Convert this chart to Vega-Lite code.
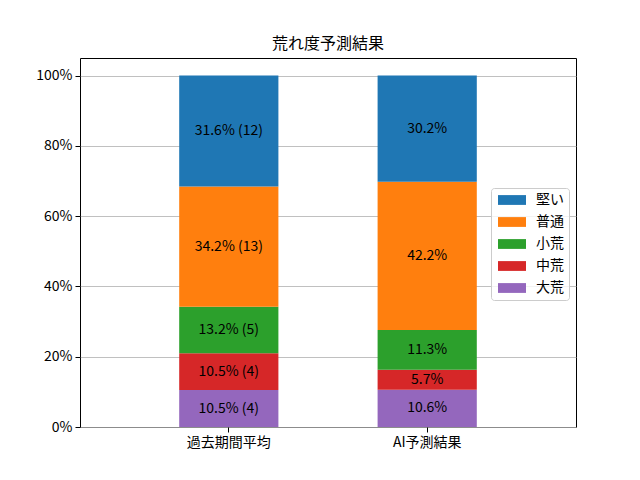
{
  "$schema": "https://vega.github.io/schema/vega-lite/v6.json",
  "width": 496,
  "height": 369,
  "autosize": "none",
  "padding": {"left": 80, "top": 58, "right": 64, "bottom": 53},
  "title": {
    "text": "荒れ度予測結果",
    "fontSize": 16,
    "fontWeight": "normal",
    "font": "Noto Sans CJK JP",
    "color": "#000000",
    "offset": 6
  },
  "data": {
    "values": [
      {"period": "過去期間平均", "type": "大荒", "rank": 1, "pct": 10.5, "label": "10.5% (4)"},
      {"period": "過去期間平均", "type": "中荒", "rank": 2, "pct": 10.5, "label": "10.5% (4)"},
      {"period": "過去期間平均", "type": "小荒", "rank": 3, "pct": 13.2, "label": "13.2% (5)"},
      {"period": "過去期間平均", "type": "普通", "rank": 4, "pct": 34.2, "label": "34.2% (13)"},
      {"period": "過去期間平均", "type": "堅い", "rank": 5, "pct": 31.6, "label": "31.6% (12)"},
      {"period": "AI予測結果", "type": "大荒", "rank": 1, "pct": 10.6, "label": "10.6%"},
      {"period": "AI予測結果", "type": "中荒", "rank": 2, "pct": 5.7, "label": "5.7%"},
      {"period": "AI予測結果", "type": "小荒", "rank": 3, "pct": 11.3, "label": "11.3%"},
      {"period": "AI予測結果", "type": "普通", "rank": 4, "pct": 42.2, "label": "42.2%"},
      {"period": "AI予測結果", "type": "堅い", "rank": 5, "pct": 30.2, "label": "30.2%"}
    ]
  },
  "transform": [
    {
      "stack": "pct",
      "groupby": ["period"],
      "sort": [{"field": "rank", "order": "ascending"}],
      "as": ["lo", "hi"]
    },
    {"calculate": "(datum.lo + datum.hi) / 2", "as": "mid"}
  ],
  "encoding": {
    "x": {
      "field": "period",
      "type": "nominal",
      "sort": ["過去期間平均", "AI予測結果"],
      "scale": {"paddingInner": 0.5, "paddingOuter": 0.5},
      "axis": {
        "title": null,
        "labelAngle": 0,
        "grid": false,
        "domain": false,
        "tickSize": 5,
        "tickColor": "#000000",
        "labelPadding": 3
      }
    }
  },
  "layer": [
    {
      "mark": {"type": "bar"},
      "encoding": {
        "y": {
          "field": "lo",
          "type": "quantitative",
          "scale": {"domain": [0, 105], "nice": false},
          "axis": {
            "title": null,
            "values": [0, 20, 40, 60, 80, 100],
            "labelExpr": "datum.value + '%'",
            "grid": true,
            "gridColor": "#b0b0b0",
            "gridWidth": 0.8,
            "domain": false,
            "tickSize": 5,
            "tickColor": "#000000",
            "labelPadding": 3
          }
        },
        "y2": {"field": "hi"},
        "color": {
          "field": "type",
          "type": "nominal",
          "scale": {
            "domain": ["堅い", "普通", "小荒", "中荒", "大荒"],
            "range": ["#1f77b4", "#ff7f0e", "#2ca02c", "#d62728", "#9467bd"]
          },
          "legend": {
            "title": null,
            "orient": "none",
            "legendX": 411,
            "legendY": 130,
            "padding": 5,
            "strokeColor": "#cccccc",
            "fillColor": "rgba(255,255,255,0.8)",
            "cornerRadius": 3,
            "symbolType": "M-1,-0.98L4.6,-0.98L4.6,0.98L-1,0.98Z",
            "symbolSize": 100,
            "symbolStrokeWidth": 0,
            "symbolOpacity": 1,
            "labelOffset": 26,
            "labelFontSize": 14,
            "rowPadding": 8
          }
        }
      }
    },
    {
      "mark": {"type": "text", "baseline": "middle", "align": "center", "fontSize": 14, "color": "#000000"},
      "encoding": {
        "y": {"field": "mid", "type": "quantitative"},
        "text": {"field": "label", "type": "nominal"}
      }
    }
  ],
  "config": {
    "font": "Noto Sans CJK JP",
    "view": {"stroke": "#000000", "strokeWidth": 1},
    "axis": {"labelFontSize": 14, "labelColor": "#000000", "labelFont": "Noto Sans CJK JP"},
    "legend": {"labelColor": "#000000", "labelFont": "Noto Sans CJK JP"}
  }
}
